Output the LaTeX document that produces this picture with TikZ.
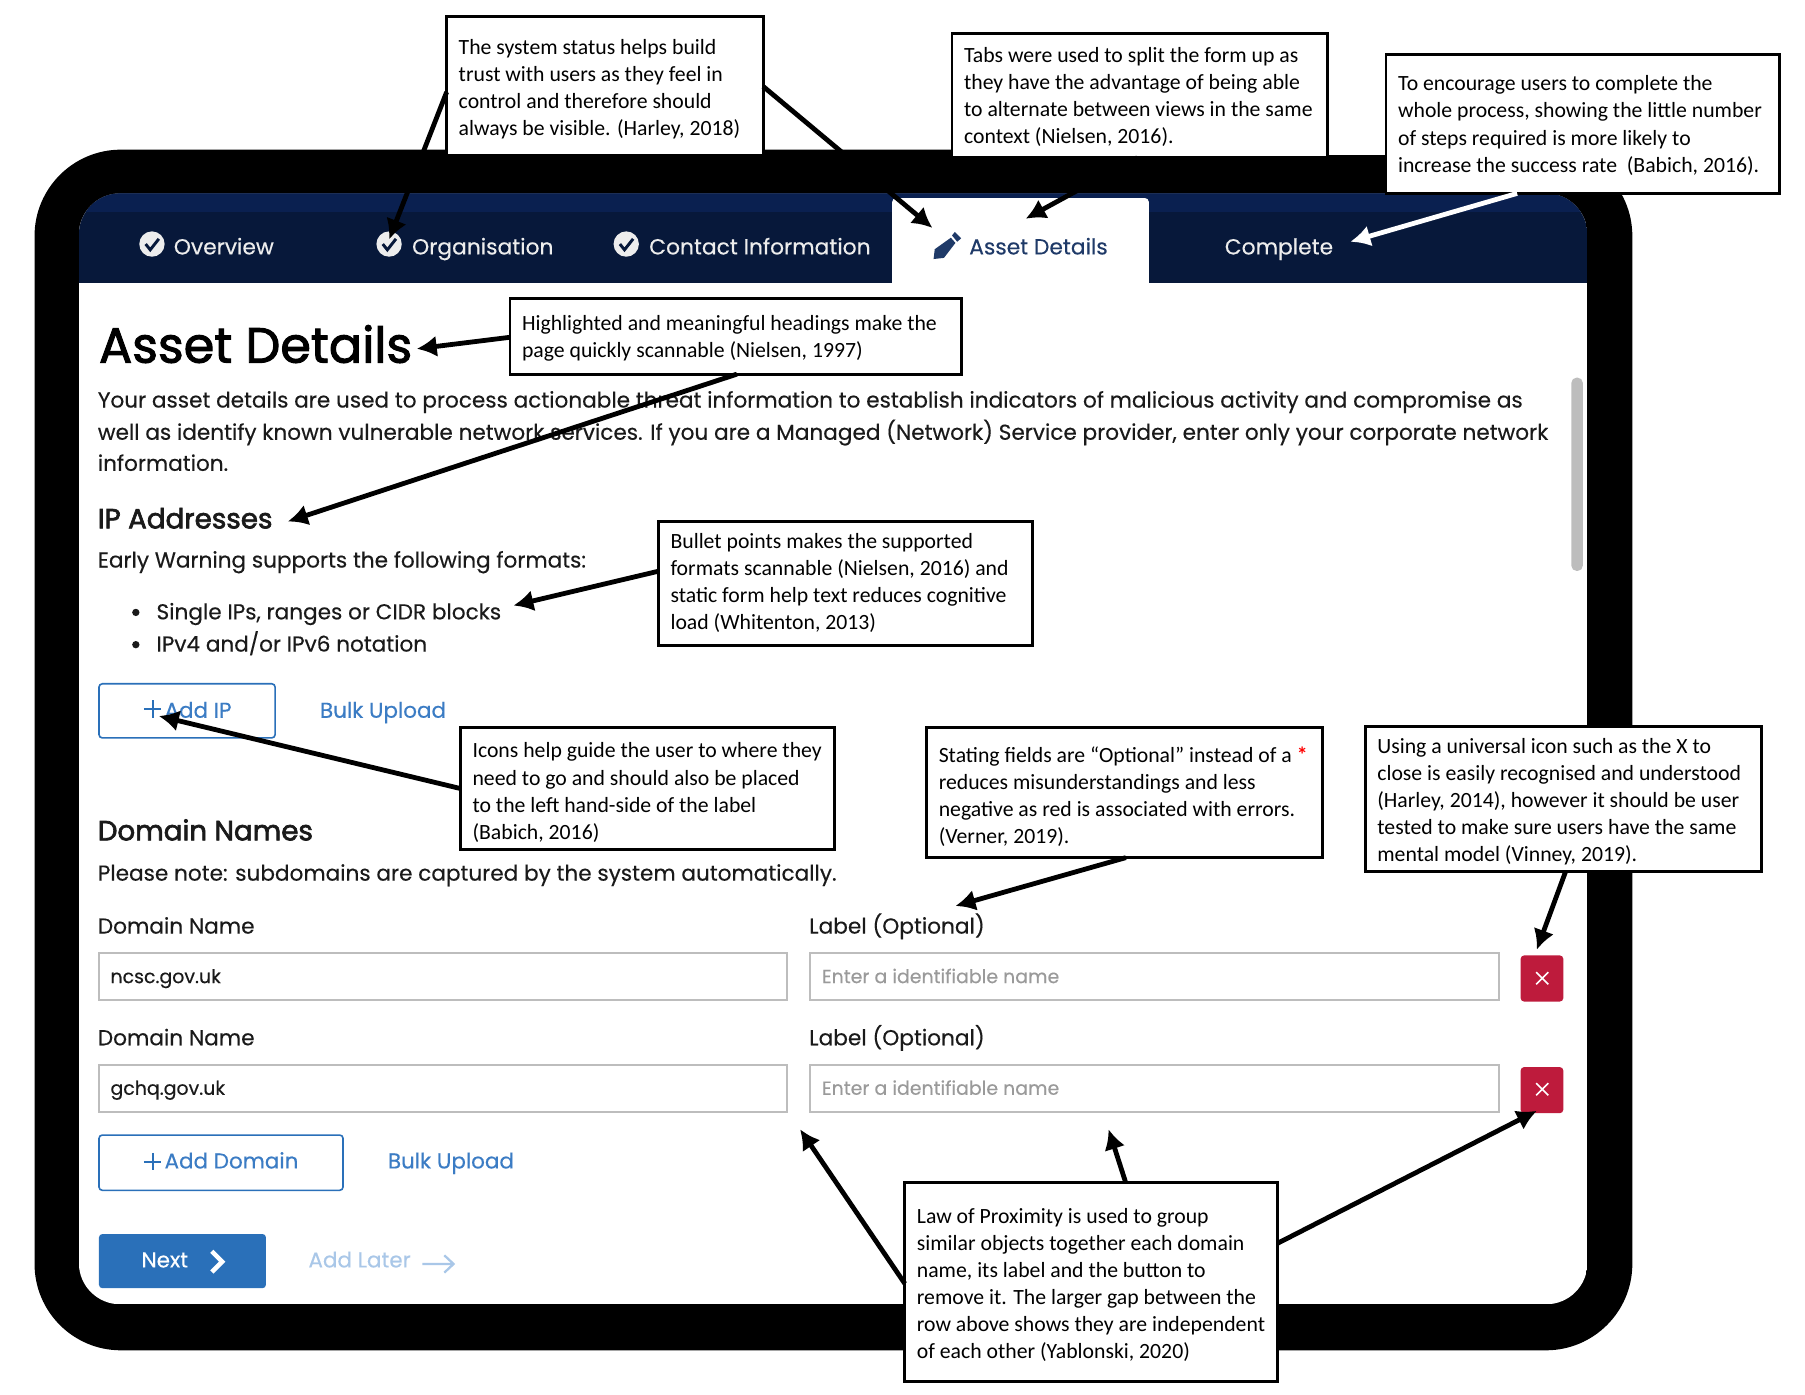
\documentclass[tikz,border=0pt]{standalone}
\usepackage{fontspec}
\usetikzlibrary{arrows.meta,calc}
\setmainfont[FakeBold=0.3]{Poppins}
\newfontfamily\carl{Carlito}
\newfontfamily\popmed[FakeBold=2]{Poppins}
\newfontfamily\popsemi[FakeBold=2.4]{Poppins}
\def\u{0.8634pt}
\definecolor{navy}{HTML}{07183A}
\definecolor{navytop}{HTML}{0A2050}
\definecolor{uiblue}{HTML}{2A70B9}
\definecolor{linkblue}{HTML}{3B7CC4}
\definecolor{fieldgrey}{HTML}{BDBDBD}
\definecolor{hintgrey}{HTML}{9A9A9A}
\definecolor{uired}{HTML}{BE1B3C}
\definecolor{later}{HTML}{A9C7E8}
\definecolor{ink}{HTML}{1A1A1A}
\definecolor{tabink}{HTML}{1F3A68}
\tikzset{
  ui/.style={anchor=base west,inner sep=0pt,outer sep=0pt,text=ink},
  navtext/.style={ui,text=white!93!black,font=\fontsize{16.35}{20}\selectfont},
  bodytext/.style={ui,font=\fontsize{16.2}{20}\selectfont},
  labeltext/.style={ui,font=\fontsize{16.25}{20}\selectfont},
  fieldtext/.style={ui,font=\fontsize{14.2}{20}\selectfont},
  hinttext/.style={fieldtext,text=hintgrey},
  linktext/.style={ui,text=linkblue,font=\fontsize{16.1}{20}\selectfont},
  subhead/.style={ui,font=\fontsize{20.8}{24}\popsemi},
  field/.style={draw=fieldgrey,line width=1.5pt,fill=white},
  outlinebtn/.style={draw=uiblue,line width=1.2pt,fill=white,rounded corners=2.5pt},
  redbtn/.style={fill=uired,rounded corners=2.5pt},
  xmark/.style={draw=white,line width=1.2pt},
  plus/.style={draw=uiblue,line width=1.5pt},
  dot/.style={circle,fill=ink,inner sep=0pt,minimum size=5.5pt},
  checkdisc/.style={circle,fill=white!93!black,inner sep=0pt,minimum size=19pt},
  tickmark/.style={draw=navy,line width=2.2pt},
  callout/.style={draw=black,line width=2.1pt,fill=white,inner sep=0pt,outer sep=0pt,text=black,
    font=\carl\fontsize{16.3}{20.3}\selectfont},
  pointer/.style={draw=black,line width=3.6pt,-{Latex[length=15pt,width=16pt]}},
  pointerwhite/.style={pointer,draw=white,-{Latex[length=15pt,width=16pt]}},
}
\newcommand\cbox[7][3]{%
  \pgfmathsetmacro\cw{#5-#3}\pgfmathsetmacro\ch{#6-#4}%
  \pgfmathsetmacro\cx{(#3+#5)/2}\pgfmathsetmacro\cy{(#4+#6)/2}%
  \pgfmathsetmacro\ctw{(#5-#3-21)*0.8634}%
  \pgfmathsetmacro\cpad{2*#1*0.8634}%
  \node[callout,minimum width=\cw*\u,minimum height=\ch*\u] (#2) at (\cx,\cy)
    {\vbox{\vskip\cpad pt\hbox to \ctw pt{\begin{tabular}{@{}l@{}}#7\end{tabular}\hfil}}};}
\begin{document}
\begin{tikzpicture}[x=0.8634pt,y=-0.8634pt]
\useasboundingbox (0,0) rectangle (1568,1211);
% device frame
\fill[black,rounded corners=64.8pt] (30,130) rectangle (1418,1173);
\fill[white] (1153,128) rectangle (1204,135);
\begin{scope}
  \clip[rounded corners=31pt] (68.5,168) rectangle (1379,1133);
  \fill[white] (68.5,168) rectangle (1379,1133);
  \fill[navy] (68.5,168) rectangle (1379,246);
  \fill[navytop] (68.5,168) rectangle (1379,184);
\end{scope}
\fill[white,rounded corners=3pt] (775,172) rectangle (998,250);
\fill[white] (775,240) rectangle (998,246);
% nav
\node[checkdisc] (c1) at (132,212) {};
\draw[tickmark] (126.5,212) -- (130.5,217) -- (138,207.5);
\node[navtext] (t1) at (151,221) {Overview};
\node[checkdisc] (c2) at (338,212) {};
\draw[tickmark] (332.5,212) -- (336.5,217) -- (344,207.5);
\node[navtext] (t2) at (358,221) {Organisation};
\node[checkdisc] (c3) at (544,212) {};
\draw[tickmark] (538.5,212) -- (542.5,217) -- (550,207.5);
\node[navtext] (t3) at (564,221) {Contact Information};
\fill[tabink] (811,225) -- (812,216.5) -- (826,206.5) -- (830,211) -- (820,224) -- cycle;
\fill[tabink] (827,204.5) -- (829.5,201.5) -- (835,207) -- (831.5,210) -- cycle;
\node[navtext,text=tabink] (t4) at (842,221) {Asset Details};
\node[navtext] (t5) at (1064,221) {Complete};
% page text
\node[ui,font=\fontsize{37}{44}\popmed,text=black] (h1) at (86,315) {Asset Details};
\node[bodytext] (p1) at (85,354) {Your asset details are used to process actionable threat information to establish indicators of malicious activity and compromise as};
\node[bodytext] (p2) at (85,382) {well as identify known vulnerable network services. If you are a Managed (Network) Service provider, enter only your corporate network};
\node[bodytext] (p3) at (85,409) {information.};
\node[subhead] (ip) at (85,459) {IP Addresses};
\node[bodytext] (ipn) at (85,493) {Early Warning supports the following formats:};
\node[dot] (b1) at (118,532) {};
\node[bodytext] (l1) at (136,538) {Single IPs, ranges or CIDR blocks};
\node[dot] (b2) at (118,560) {};
\node[bodytext] (l2) at (136,566) {IPv4 and/or IPv6 notation};
% add ip
\draw[outlinebtn] (86,594) rectangle (239,641);
\draw[plus] (125,616) -- (140,616) (132.5,608.5) -- (132.5,623.5);
\node[linktext] (aip) at (143,623.5) {Add IP};
\node[linktext] (bu1) at (278,623.5) {Bulk Upload};
% domain names
\node[subhead] (dn) at (85,730) {Domain Names};
\node[bodytext] (dnn) at (85,765) {Please note: subdomains are captured by the system automatically.};
\node[labeltext] (la1) at (85,811) {Domain Name};
\node[labeltext] (la2) at (703,811) {Label (Optional)};
\draw[field] (86,828) rectangle (684,869);
\node[fieldtext] (f1) at (96,854) {ncsc.gov.uk};
\draw[field] (704,828) rectangle (1302,869);
\node[hinttext] (f2) at (714,854) {Enter a identifiable name};
\fill[redbtn] (1321,830) rectangle (1358,870);
\draw[xmark] (1334.5,844.5) -- (1345,855) (1345,844.5) -- (1334.5,855);
\node[labeltext] (la3) at (85,908) {Domain Name};
\node[labeltext] (la4) at (703,908) {Label (Optional)};
\draw[field] (86,925) rectangle (684,966);
\node[fieldtext] (f3) at (96,951) {gchq.gov.uk};
\draw[field] (704,925) rectangle (1302,966);
\node[hinttext] (f4) at (714,951) {Enter a identifiable name};
\fill[redbtn] (1321,927) rectangle (1358,967);
\draw[xmark] (1334.5,941) -- (1345,951.5) (1345,941) -- (1334.5,951.5);
% add domain
\draw[outlinebtn] (86,986) rectangle (298,1034);
\draw[plus] (125,1009) -- (140,1009) (132.5,1001.5) -- (132.5,1016.5);
\node[linktext] (adom) at (143,1015) {Add Domain};
\node[linktext] (bu2) at (337,1015) {Bulk Upload};
% next
\fill[uiblue,rounded corners=2.5pt] (86,1072) rectangle (231,1119);
\node[linktext,text=white] (nx) at (123,1101) {Next};
\draw[white,line width=3.4pt] (184,1087) -- (193,1096) -- (184,1105);
\node[linktext,text=later] (lat) at (268,1101) {Add Later};
\draw[later,line width=1.7pt] (367,1098) -- (394,1098) (386,1090.5) -- (394,1098) -- (386,1105.5);
% scrollbar
\fill[fieldgrey,rounded corners=4pt] (1365,328) rectangle (1375,496);
% callouts
\cbox{cA}{388}{14}{663}{135}{The system status helps build\\trust with users as they feel in\\control and therefore should\\always be visible. (Harley, 2018)}
\cbox[2]{cB}{827}{29}{1153}{137}{Tabs were used to split the form up as\\they have the advantage of being able\\to alternate between views in the same\\context (Nielsen, 2016).}
\cbox[2]{cC}{1204}{47}{1546}{168}{To encourage users to complete the\\whole process, showing the little number\\of steps required is more likely to\\increase the success rate\ \ (Babich, 2016).}
\cbox[2]{cD}{443}{259}{835}{325}{Highlighted and meaningful headings make the\\page quickly scannable (Nielsen, 1997)}
\cbox[0]{cE}{572}{453}{897}{561}{Bullet points makes the supported\\formats scannable (Nielsen, 2016) and\\static form help text reduces cognitive\\load (Whitenton, 2013)}
\cbox[4]{cF}{400}{632}{725}{738}{Icons help guide the user to where they\\need to go and should also be placed\\to the left hand-side of the label\\(Babich, 2016)}
\cbox[4]{cG}{805}{632}{1149}{745}{Stating fields are “Optional” instead of a \textcolor{red}{\textbf{*}}\\reduces misunderstandings and less\\negative as red is associated with errors.\\(Verner, 2019).}
\cbox[2.5]{cH}{1186}{631}{1530}{757}{Using a universal icon such as the X to\\close is easily recognised and understood\\(Harley, 2014), however it should be user\\tested to make sure users have the same\\mental model (Vinney, 2019).}
\cbox{cI}{786}{1027}{1110}{1200}{Law of Proximity is used to group\\similar objects together each domain\\name, its label and the button to\\remove it. The larger gap between the\\row above shows they are independent\\of each other (Yablonski, 2020)}
% pointer ends
\coordinate (tA1) at (338,208);
\coordinate (tA2) at (810,198);
\coordinate (tB) at (891,190);
\coordinate (tC) at (1173,210);
\coordinate (tD1) at (362,303);
\coordinate (tD2) at (250,453);
\coordinate (tE) at (446,526);
\coordinate (tF) at (138,622);
\coordinate (tG) at (830,787);
\coordinate (tH) at (1335,825);
\coordinate (tI1) at (695,981);
\coordinate (tI2) at (963,981);
\coordinate (tI3) at (1335,965);
% pointers
\draw[pointer] ($(cA.north west)!0.545!(cA.south west)$) -- (tA1);
\draw[pointer] ($(cA.north east)!0.505!(cA.south east)$) -- (tA2);
\draw[pointer] ($(cB.south west)!0.494!(cB.south east)$) -- (tB);
\draw[pointerwhite] ($(cC.south west)!0.333!(cC.south east)$) -- (tC);
\draw[pointer] ($(cD.north west)!0.515!(cD.south west)$) -- (tD1);
\draw[pointer] ($(cD.south west)!0.503!(cD.south east)$) -- (tD2);
\draw[pointer] ($(cE.north west)!0.4!(cE.south west)$) -- (tE);
\draw[pointer] ($(cF.north west)!0.5!(cF.south west)$) -- (tF);
\draw[pointer] ($(cG.south west)!0.503!(cG.south east)$) -- (tG);
\draw[pointer] ($(cH.south west)!0.506!(cH.south east)$) -- (tH);
\draw[pointer] ($(cI.north west)!0.509!(cI.south west)$) -- (tI1);
\draw[pointer] ($(cI.north west)!0.592!(cI.north east)$) -- (tI2);
\draw[pointer] ($(cI.north east)!0.306!(cI.south east)$) -- (tI3);
\end{tikzpicture}
\end{document}
